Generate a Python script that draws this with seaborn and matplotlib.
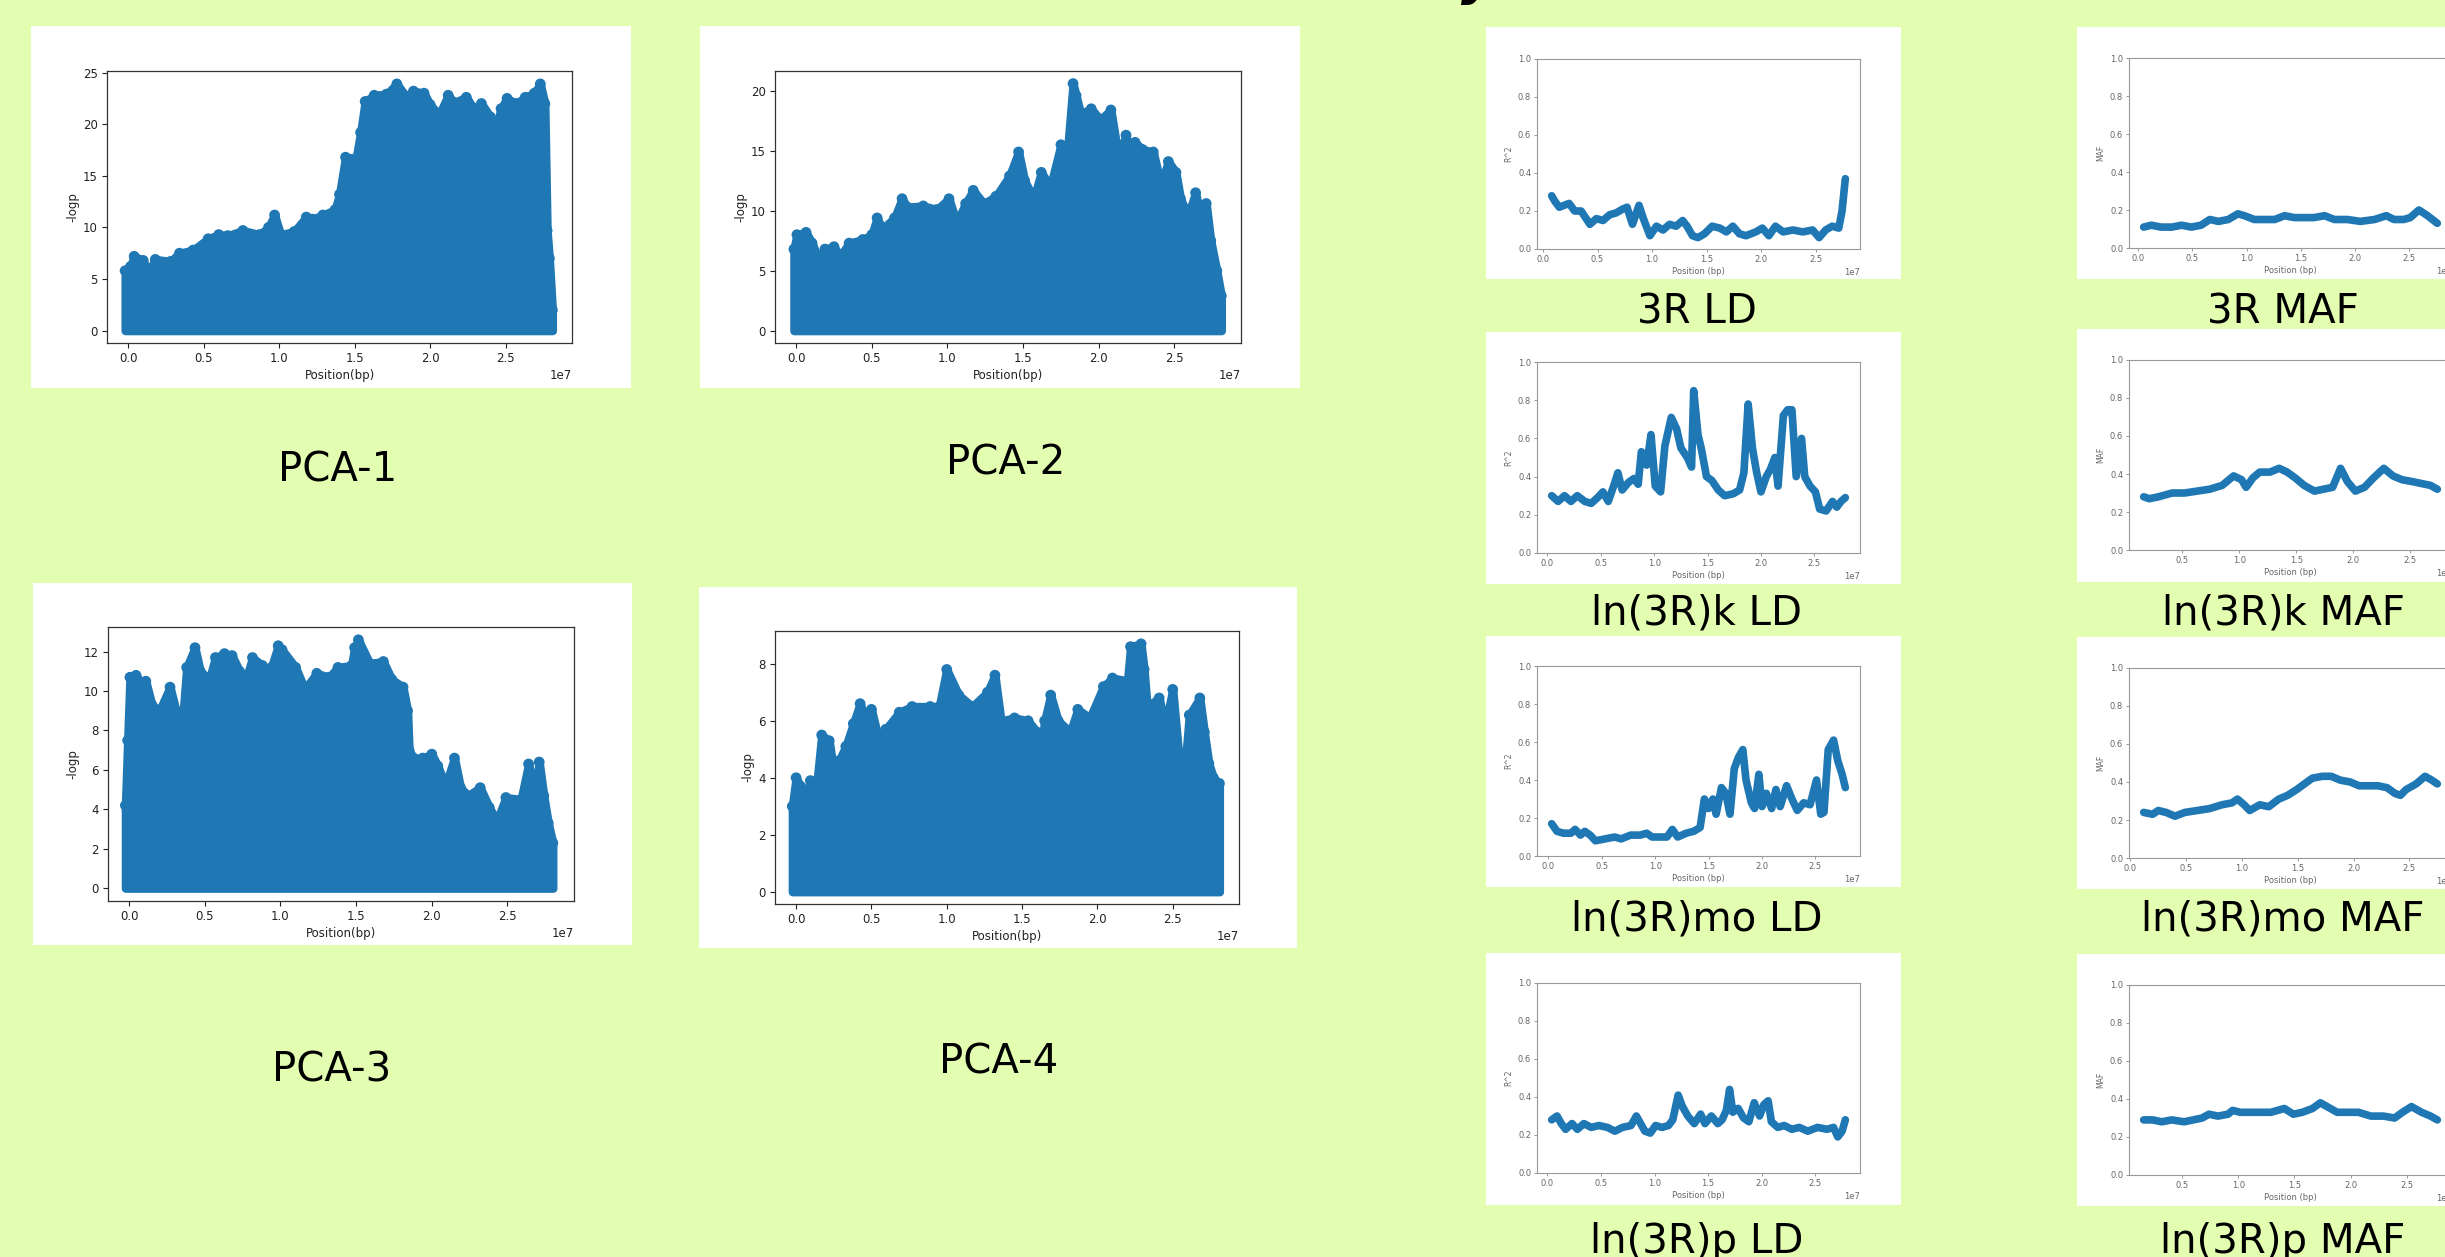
import numpy as np
import matplotlib
matplotlib.use("Agg")
import matplotlib.pyplot as plt
from matplotlib.patches import Rectangle
import seaborn as sns

W, H = 2445, 1257
BG = "#e3feb1"
BLUE = "#1f77b4"

# ---- PCA association scans: upper envelope of -log10(p) along 3R (positions in 1e7 bp)
pca1_pos = [-0.02, 0.015, 0.04, 0.1, 0.13, 0.18, 0.28, 0.34, 0.43, 0.53, 0.6, 0.66, 0.76, 0.87,
            0.93, 0.97, 1.01, 1.1, 1.18, 1.22, 1.29, 1.37, 1.4, 1.44, 1.51, 1.54, 1.57, 1.63, 1.71,
            1.78, 1.84, 1.89, 1.96, 2.0, 2.06, 2.12, 2.16, 2.24, 2.29, 2.34, 2.4, 2.44, 2.47, 2.51,
            2.57, 2.63, 2.69, 2.73, 2.76, 2.775, 2.79, 2.81]
pca1_logp = [5.8, 6.2, 7.2, 6.8, 5.6, 6.9, 6.7, 7.5, 7.8, 8.9, 9.3, 9.2, 9.7, 9.3,
             10.0, 11.2, 9.3, 9.6, 11.0, 10.8, 11.2, 11.7, 13.2, 16.8, 16.7, 19.2, 22.2, 22.8, 22.9,
             23.9, 22.7, 23.2, 23.0, 21.9, 20.9, 22.8, 22.1, 22.6, 21.5, 22.0, 20.7, 19.9, 21.5, 22.5,
             22.0, 22.6, 23.0, 23.9, 22.0, 9.7, 7.0, 2.0]

pca2_pos = [-0.015, 0.005, 0.065, 0.105, 0.15, 0.19, 0.25, 0.29, 0.35, 0.44, 0.5, 0.535, 0.57,
            0.65, 0.7, 0.735, 0.84, 0.93, 1.01, 1.06, 1.12, 1.17, 1.24, 1.32, 1.41, 1.47, 1.51,
            1.57, 1.62, 1.68, 1.75, 1.78, 1.83, 1.85, 1.88, 1.95, 2.01, 2.08, 2.13, 2.18, 2.21,
            2.24, 2.29, 2.36, 2.41, 2.46, 2.51, 2.54, 2.59, 2.64, 2.68, 2.71, 2.74, 2.78, 2.81]
pca2_logp = [6.8, 8.0, 8.2, 7.3, 5.9, 6.8, 7.0, 6.2, 7.3, 7.6, 8.0, 9.4, 8.5,
             9.4, 11.0, 10.3, 10.4, 10.1, 11.0, 9.0, 10.6, 11.7, 10.6, 11.2, 12.9, 14.9, 12.5,
             11.0, 13.2, 12.0, 15.5, 13.0, 20.6, 19.6, 18.1, 18.5, 17.6, 18.4, 14.5, 16.3, 14.5,
             15.7, 15.1, 14.9, 12.2, 14.1, 13.2, 11.0, 9.6, 11.5, 9.0, 10.6, 7.5, 5.0, 2.9]

pca3_pos = [-0.025, -0.01, 0.005, 0.045, 0.09, 0.11, 0.15, 0.2, 0.27, 0.31, 0.35, 0.38, 0.435,
            0.47, 0.53, 0.57, 0.63, 0.68, 0.73, 0.765, 0.815, 0.88, 0.9, 0.94, 0.985, 1.01, 1.1,
            1.16, 1.24, 1.32, 1.38, 1.47, 1.49, 1.515, 1.59, 1.68, 1.735, 1.81, 1.84, 1.85, 1.88,
            1.94, 2.0, 2.04, 2.09, 2.15, 2.19, 2.24, 2.32, 2.38, 2.43, 2.49, 2.59, 2.64, 2.68,
            2.71, 2.74, 2.77, 2.8]
pca3_logp = [4.2, 7.5, 10.7, 10.8, 10.3, 10.5, 9.3, 9.0, 10.2, 9.0, 8.2, 11.2, 12.2,
             11.0, 10.6, 11.7, 11.9, 11.8, 11.0, 10.4, 11.7, 11.3, 10.4, 11.2, 12.3, 12.1, 11.2,
             10.1, 10.9, 10.7, 11.2, 11.3, 12.2, 12.6, 11.4, 11.5, 10.6, 10.2, 9.0, 7.0, 6.6,
             6.6, 6.8, 6.2, 5.2, 6.6, 5.1, 4.7, 5.1, 4.1, 3.4, 4.6, 4.5, 6.3, 4.8,
             6.4, 4.7, 3.3, 2.3]

pca4_pos = [-0.025, 0.0, 0.03, 0.065, 0.095, 0.13, 0.17, 0.22, 0.25, 0.285, 0.33, 0.38, 0.425,
            0.46, 0.5, 0.55, 0.595, 0.685, 0.77, 0.89, 0.95, 1.0, 1.08, 1.17, 1.27, 1.32, 1.36,
            1.45, 1.54, 1.6, 1.625, 1.65, 1.69, 1.74, 1.82, 1.87, 1.95, 2.04, 2.1, 2.2, 2.22,
            2.29, 2.31, 2.33, 2.41, 2.45, 2.5, 2.54, 2.58, 2.61, 2.68, 2.71, 2.74, 2.77, 2.81]
pca4_logp = [3.0, 4.0, 3.7, 3.3, 3.9, 3.4, 5.5, 5.3, 4.2, 4.6, 5.1, 5.9, 6.6,
             6.1, 6.4, 5.3, 5.7, 6.3, 6.5, 6.5, 6.5, 7.8, 6.9, 6.5, 7.0, 7.6, 6.0,
             6.1, 6.0, 5.6, 5.0, 6.0, 6.9, 6.0, 5.6, 6.4, 6.1, 7.2, 7.5, 7.4, 8.6,
             8.7, 7.8, 6.5, 6.8, 5.8, 7.1, 4.8, 4.3, 6.2, 6.8, 5.6, 4.5, 4.0, 3.8]

# ---- Sliding-window LD (r^2) and MAF along 3R (positions in 1e7 bp)
ld_3r_pos = [0.08, 0.11, 0.15, 0.24, 0.29, 0.35, 0.43, 0.49, 0.55, 0.61, 0.67, 0.73, 0.77, 0.82,
             0.88, 0.92, 0.98, 1.04, 1.10, 1.16, 1.22, 1.28, 1.32, 1.37, 1.42, 1.48, 1.55, 1.62,
             1.68, 1.74, 1.80, 1.86, 1.95, 2.01, 2.07, 2.13, 2.20, 2.29, 2.38, 2.47, 2.53, 2.59,
             2.65, 2.71, 2.74, 2.77]
ld_3r_r2 = [0.28, 0.25, 0.22, 0.24, 0.20, 0.20, 0.13, 0.16, 0.15, 0.18, 0.19, 0.21, 0.22, 0.13,
            0.23, 0.16, 0.07, 0.12, 0.10, 0.13, 0.12, 0.15, 0.12, 0.07, 0.06, 0.08, 0.12, 0.11,
            0.09, 0.12, 0.08, 0.07, 0.09, 0.11, 0.07, 0.12, 0.09, 0.10, 0.09, 0.10, 0.06, 0.10,
            0.12, 0.11, 0.20, 0.37]

maf_3r_pos = [0.05, 0.12, 0.21, 0.31, 0.40, 0.49, 0.58, 0.66, 0.74, 0.83, 0.92, 0.98, 1.07, 1.16,
              1.26, 1.35, 1.44, 1.53, 1.62, 1.72, 1.81, 1.93, 2.05, 2.18, 2.29, 2.36, 2.45, 2.51,
              2.59, 2.67, 2.76]
maf_3r_val = [0.11, 0.12, 0.11, 0.11, 0.12, 0.11, 0.12, 0.15, 0.14, 0.15, 0.18, 0.17, 0.15, 0.15,
              0.15, 0.17, 0.16, 0.16, 0.16, 0.17, 0.15, 0.15, 0.14, 0.15, 0.17, 0.15, 0.15, 0.16,
              0.20, 0.17, 0.13]

ld_k_pos = [0.04, 0.10, 0.16, 0.22, 0.28, 0.35, 0.41, 0.47, 0.52, 0.57, 0.62, 0.66, 0.70, 0.76,
            0.81, 0.85, 0.88, 0.93, 0.97, 1.01, 1.06, 1.10, 1.16, 1.21, 1.25, 1.31, 1.35, 1.37,
            1.41, 1.44, 1.49, 1.54, 1.60, 1.66, 1.74, 1.80, 1.84, 1.88, 1.92, 1.96, 2.00, 2.05,
            2.09, 2.13, 2.16, 2.21, 2.25, 2.29, 2.33, 2.38, 2.41, 2.46, 2.51, 2.55, 2.61, 2.67,
            2.71, 2.75, 2.79]
ld_k_r2 = [0.30, 0.27, 0.30, 0.27, 0.30, 0.27, 0.26, 0.29, 0.32, 0.27, 0.35, 0.42, 0.33, 0.37,
           0.39, 0.36, 0.53, 0.46, 0.62, 0.35, 0.32, 0.56, 0.71, 0.65, 0.55, 0.50, 0.45, 0.85,
           0.62, 0.55, 0.40, 0.38, 0.33, 0.30, 0.31, 0.33, 0.42, 0.78, 0.55, 0.42, 0.32, 0.40,
           0.44, 0.50, 0.35, 0.72, 0.75, 0.75, 0.40, 0.60, 0.40, 0.35, 0.32, 0.23, 0.22, 0.27,
           0.24, 0.27, 0.29]

maf_k_pos = [0.16, 0.21, 0.29, 0.41, 0.52, 0.63, 0.74, 0.85, 0.91, 0.95, 1.02, 1.06, 1.12, 1.18,
             1.27, 1.35, 1.42, 1.49, 1.57, 1.66, 1.74, 1.82, 1.89, 1.95, 2.02, 2.10, 2.18, 2.27,
             2.35, 2.43, 2.52, 2.60, 2.68, 2.74]
maf_k_val = [0.28, 0.27, 0.28, 0.30, 0.30, 0.31, 0.32, 0.34, 0.37, 0.39, 0.37, 0.33, 0.38, 0.41,
             0.41, 0.43, 0.41, 0.38, 0.34, 0.31, 0.32, 0.33, 0.43, 0.36, 0.31, 0.33, 0.38, 0.43,
             0.39, 0.37, 0.36, 0.35, 0.34, 0.32]

ld_mo_pos = [0.03, 0.08, 0.14, 0.21, 0.25, 0.30, 0.34, 0.39, 0.44, 0.53, 0.62, 0.68, 0.77, 0.86,
             0.92, 0.97, 1.04, 1.11, 1.16, 1.21, 1.29, 1.36, 1.42, 1.46, 1.50, 1.54, 1.57, 1.62,
             1.66, 1.70, 1.74, 1.78, 1.82, 1.85, 1.90, 1.93, 1.97, 2.00, 2.04, 2.09, 2.13, 2.17,
             2.23, 2.28, 2.33, 2.39, 2.45, 2.51, 2.55, 2.58, 2.62, 2.67, 2.71, 2.75, 2.78]
ld_mo_r2 = [0.17, 0.13, 0.12, 0.12, 0.14, 0.11, 0.13, 0.11, 0.08, 0.09, 0.10, 0.09, 0.11, 0.11,
            0.12, 0.10, 0.10, 0.10, 0.14, 0.10, 0.12, 0.13, 0.15, 0.30, 0.25, 0.30, 0.22, 0.36,
            0.33, 0.22, 0.46, 0.52, 0.56, 0.40, 0.28, 0.25, 0.43, 0.26, 0.33, 0.25, 0.35, 0.26,
            0.37, 0.30, 0.24, 0.28, 0.27, 0.40, 0.22, 0.23, 0.56, 0.61, 0.50, 0.43, 0.36]

maf_mo_pos = [0.12, 0.20, 0.25, 0.32, 0.40, 0.49, 0.60, 0.71, 0.82, 0.91, 0.96, 1.02, 1.07, 1.16,
              1.24, 1.33, 1.41, 1.49, 1.56, 1.63, 1.72, 1.80, 1.88, 1.97, 2.05, 2.14, 2.22, 2.30,
              2.37, 2.42, 2.47, 2.56, 2.64, 2.70, 2.75]
maf_mo_val = [0.24, 0.23, 0.25, 0.24, 0.22, 0.24, 0.25, 0.26, 0.28, 0.29, 0.31, 0.28, 0.25, 0.28,
              0.27, 0.31, 0.33, 0.36, 0.39, 0.42, 0.43, 0.43, 0.41, 0.40, 0.38, 0.38, 0.38, 0.37,
              0.34, 0.33, 0.36, 0.39, 0.43, 0.41, 0.39]

ld_p_pos = [0.04, 0.09, 0.13, 0.17, 0.23, 0.28, 0.34, 0.41, 0.48, 0.56, 0.63, 0.70, 0.78, 0.83,
            0.87, 0.91, 0.96, 1.01, 1.07, 1.13, 1.17, 1.22, 1.26, 1.31, 1.37, 1.43, 1.47, 1.53,
            1.59, 1.63, 1.67, 1.70, 1.73, 1.78, 1.83, 1.88, 1.93, 1.98, 2.02, 2.06, 2.09, 2.15,
            2.21, 2.28, 2.35, 2.43, 2.52, 2.61, 2.67, 2.71, 2.75, 2.78]
ld_p_r2 = [0.28, 0.30, 0.26, 0.23, 0.26, 0.23, 0.26, 0.24, 0.25, 0.24, 0.22, 0.24, 0.25, 0.30,
           0.26, 0.22, 0.21, 0.25, 0.24, 0.25, 0.28, 0.41, 0.35, 0.30, 0.26, 0.31, 0.26, 0.30,
           0.26, 0.28, 0.33, 0.44, 0.32, 0.34, 0.29, 0.27, 0.37, 0.30, 0.36, 0.38, 0.27, 0.24,
           0.25, 0.23, 0.24, 0.22, 0.24, 0.23, 0.24, 0.19, 0.22, 0.28]

maf_p_pos = [0.16, 0.24, 0.32, 0.41, 0.52, 0.60, 0.68, 0.74, 0.82, 0.91, 0.95, 1.02, 1.10, 1.18,
             1.29, 1.41, 1.49, 1.57, 1.66, 1.73, 1.79, 1.88, 1.96, 2.07, 2.18, 2.29, 2.39, 2.46,
             2.54, 2.63, 2.71, 2.77]
maf_p_val = [0.29, 0.29, 0.28, 0.29, 0.28, 0.29, 0.30, 0.32, 0.31, 0.32, 0.34, 0.33, 0.33, 0.33,
             0.33, 0.35, 0.32, 0.33, 0.35, 0.38, 0.36, 0.33, 0.33, 0.33, 0.31, 0.31, 0.30, 0.33,
             0.36, 0.33, 0.31, 0.29]

pca_titles = ["PCA-1", "PCA-2", "PCA-3", "PCA-4"]
ld_titles = ["3R LD", "ln(3R)k LD", "ln(3R)mo LD", "ln(3R)p LD"]
maf_titles = ["3R MAF", "ln(3R)k MAF", "ln(3R)mo MAF", "ln(3R)p MAF"]

POS_UNIT = 1e7
LABEL_SIZE = 29

plt.rcParams["font.family"] = ["DejaVu Sans"]
fig = plt.figure(figsize=(W / 100, H / 100), dpi=100, facecolor=BG)


def frac(x0, y0, x1, y1):
    """Pixel box (top-left origin) -> figure-fraction rect."""
    return [x0 / W, 1 - y1 / H, (x1 - x0) / W, (y1 - y0) / H]


def card(x0, y0, x1, y1):
    fig.add_artist(Rectangle((x0 / W, 1 - y1 / H), (x1 - x0) / W, (y1 - y0) / H,
                             transform=fig.transFigure, facecolor="white",
                             edgecolor="none", zorder=-1))


def pca_panel(box, axbox, pos, logp, ylim):
    card(*box)
    ax = fig.add_axes(frac(*axbox))
    x = np.asarray(pos) * POS_UNIT
    y = np.asarray(logp)
    ax.fill_between(x, 0, y, color=BLUE, lw=6, joinstyle="round", zorder=2)
    sns.scatterplot(x=x, y=y, ax=ax, s=60, color=BLUE, edgecolor="none", zorder=3)
    ax.set_xlim(-0.14 * POS_UNIT, 2.94 * POS_UNIT)
    ax.set_ylim(*ylim)
    ax.set_xlabel("Position(bp)", fontsize=8.5, color="#222222", labelpad=3)
    ax.set_ylabel("-logp", fontsize=8.5, color="#222222", labelpad=3)
    ax.tick_params(labelsize=8.5, length=3.5, width=0.8, colors="#222222", pad=3)
    ax.xaxis.get_offset_text().set_fontsize(8.5)
    for s in ax.spines.values():
        s.set_color("#333333")
        s.set_linewidth(0.9)
    return ax


def curve_panel(box, axbox, pos, val, ylabel):
    card(*box)
    ax = fig.add_axes(frac(*axbox))
    sns.lineplot(x=np.asarray(pos) * POS_UNIT, y=np.asarray(val), ax=ax, color=BLUE,
                 lw=5.5, estimator=None, sort=False,
                 solid_capstyle="round", solid_joinstyle="round")
    ax.set_ylim(0, 1)
    ax.set_xlabel("Position (bp)", fontsize=6, color="#666666", labelpad=2)
    ax.set_ylabel(ylabel, fontsize=5.5, color="#666666", labelpad=3)
    ax.tick_params(labelsize=6, length=2.2, width=0.6, colors="#888888",
                   labelcolor="#666666", pad=2)
    ax.xaxis.get_offset_text().set_fontsize(6)
    ax.xaxis.get_offset_text().set_color("#666666")
    for s in ax.spines.values():
        s.set_color("#999999")
        s.set_linewidth(0.8)
    return ax


# Left block: four PCA scans
pca_panel((31, 26, 631, 388), (107, 71, 572, 343), pca1_pos, pca1_logp, (-1.2, 25.15))
pca_panel((700, 26, 1300, 388), (775, 71, 1241, 343), pca2_pos, pca2_logp, (-1.03, 21.65))
pca_panel((33, 583, 632, 945), (108, 627, 574, 901), pca3_pos, pca3_logp, (-0.65, 13.25))
pca_panel((699, 587, 1297, 948), (775, 631, 1239, 904), pca4_pos, pca4_logp, (-0.43, 9.15))

pca_label_xy = [(338, 481), (1006, 474), (332, 1082), (999, 1074)]
for (lx, ly), t in zip(pca_label_xy, pca_titles):
    fig.text(lx / W, 1 - ly / H, t, fontsize=LABEL_SIZE, ha="center", va="baseline", color="black")

# Right block: LD and MAF tracks
ld_boxes = [(1486, 27, 1901, 279), (1486, 332, 1901, 584), (1486, 636, 1901, 887), (1486, 953, 1901, 1205)]
ld_axes = [(1537, 59, 1860, 249), (1537, 362, 1860, 553), (1537, 666, 1860, 856), (1537, 983, 1860, 1173)]
maf_boxes = [(2077, 27, 2460, 279), (2077, 329, 2460, 582), (2077, 637, 2460, 889), (2077, 954, 2460, 1206)]
maf_axes = [(2129, 58, 2452, 248), (2129, 360, 2452, 550), (2129, 668, 2452, 858), (2129, 985, 2452, 1175)]

ld_series = [(ld_3r_pos, ld_3r_r2), (ld_k_pos, ld_k_r2), (ld_mo_pos, ld_mo_r2), (ld_p_pos, ld_p_r2)]
maf_series = [(maf_3r_pos, maf_3r_val), (maf_k_pos, maf_k_val), (maf_mo_pos, maf_mo_val), (maf_p_pos, maf_p_val)]

for b, a, (p, v) in zip(ld_boxes, ld_axes, ld_series):
    curve_panel(b, a, p, v, "R^2")
for b, a, (p, v) in zip(maf_boxes, maf_axes, maf_series):
    curve_panel(b, a, p, v, "MAF")

label_base_y = [324, 625, 931, 1253]
for ly, t1, t2 in zip(label_base_y, ld_titles, maf_titles):
    fig.text(1697 / W, 1 - ly / H, t1, fontsize=LABEL_SIZE, ha="center", va="baseline", color="black")
    fig.text(2283 / W, 1 - ly / H, t2, fontsize=LABEL_SIZE, ha="center", va="baseline", color="black")

# Slide heading, running off the top edge
fig.text(1478 / W, 1 + 6 / H, "y", fontsize=38, fontweight="bold", style="italic",
         ha="center", va="baseline", color="black")

fig.savefig("out.png", dpi=100, facecolor=BG)
